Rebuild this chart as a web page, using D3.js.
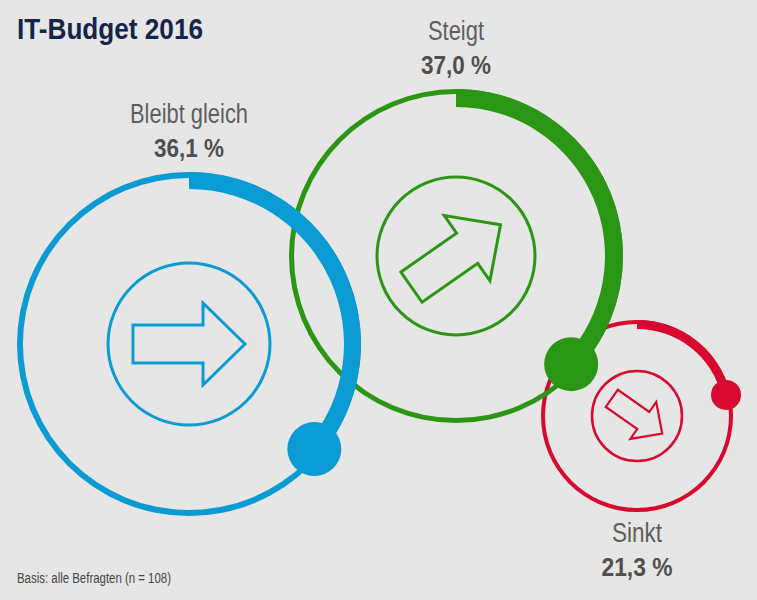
<!DOCTYPE html>
<html><head><meta charset="utf-8">
<script src="https://cdn.jsdelivr.net/npm/d3@7"></script>
<style>
html,body{margin:0;padding:0;background:#e6e6e6;}
svg{display:block;}
text{font-family:"Liberation Sans Narrow","Arial Narrow","Liberation Sans",sans-serif;}
</style></head>
<body>
<svg id="c" width="757" height="600"></svg>
<script>
// ---- data ----
const title = "IT-Budget 2016";
const footnote = "Basis: alle Befragten (n = 108)";
const categories = ["Bleibt gleich", "Steigt", "Sinkt"];
const values = [36.1, 37.0, 21.3];
const arrowDirections = [0, -35, 35]; // degrees: gleich → right, steigt → up-right, sinkt → down-right

// ---- layout / style ----
const layout = [
  {cx:189, cy:344, R:172, thin:6, thick:17, dot:27, inner:81, innerW:3, arrowScale:1.0, arrowW:3, color:"#0a9bd4", labelPos:"top", nameW:118, valW:70},
  {cx:456, cy:256, R:167, thin:5, thick:18, dot:27, inner:79, innerW:3, arrowScale:0.97, arrowW:3, color:"#2b9614", labelPos:"top", nameW:56, valW:70},
  {cx:637, cy:416, R:96, thin:4, thick:9, dot:15, inner:45, innerW:2.5, arrowScale:0.55, arrowW:2.2, color:"#d8082e", labelPos:"bottom", nameW:50, valW:71}
];
const drawOrder = [2, 1, 0];

const svg = d3.select("#c");
svg.append("rect").attr("width",757).attr("height",600).attr("fill","#e6e6e6");

const angle = d3.scaleLinear().domain([0,100]).range([0, 2*Math.PI]);
const fmt = v => d3.format(".1f")(v).replace(".", ",") + " %";

// arrow outline (pointing right), unit ~ px at scale 1
const arrowPts = [[-56,-19],[14,-19],[14,-41],[56,0],[14,41],[14,19],[-56,19]];
const arrowLine = d3.line().curve(d3.curveLinearClosed);

drawOrder.forEach(i => {
  const L = layout[i], v = values[i];
  const g = svg.append("g").attr("transform", `translate(${L.cx},${L.cy})`);
  // thin full ring
  g.append("path")
    .attr("d", d3.arc()({innerRadius:L.R-L.thin, outerRadius:L.R, startAngle:0, endAngle:2*Math.PI}))
    .attr("fill", L.color);
  // thick value arc
  g.append("path")
    .attr("d", d3.arc()({innerRadius:L.R-L.thick, outerRadius:L.R, startAngle:0, endAngle:angle(v)}))
    .attr("fill", L.color);
  // end dot
  const a = angle(v), rr = L.R - L.thick/2;
  g.append("circle")
    .attr("cx", rr*Math.sin(a)).attr("cy", -rr*Math.cos(a))
    .attr("r", L.dot).attr("fill", L.color);
  // inner circle
  g.append("circle").attr("r", L.inner).attr("fill","none")
    .attr("stroke", L.color).attr("stroke-width", L.innerW);
  // arrow
  g.append("path")
    .attr("d", arrowLine(arrowPts.map(p => [p[0]*L.arrowScale, p[1]*L.arrowScale])))
    .attr("transform", `rotate(${arrowDirections[i]})`)
    .attr("fill","none").attr("stroke", L.color)
    .attr("stroke-width", L.arrowW).attr("stroke-linejoin","miter");
});

// labels
categories.forEach((name, i) => {
  const L = layout[i];
  let nameY, valY;
  if (L.labelPos === "top") { nameY = L.cy - L.R - 49; valY = L.cy - L.R - 15; }
  else { nameY = L.cy + L.R + 30; valY = L.cy + L.R + 64; }
  svg.append("text").attr("x", L.cx).attr("y", nameY)
    .attr("text-anchor","middle").attr("font-size", 27).attr("fill","#5e5e5e")
    .attr("textLength", L.nameW).attr("lengthAdjust","spacingAndGlyphs")
    .text(name);
  svg.append("text").attr("x", L.cx).attr("y", valY)
    .attr("text-anchor","middle").attr("font-size", 25).attr("font-weight","bold").attr("fill","#4f4f4f")
    .attr("textLength", L.valW).attr("lengthAdjust","spacingAndGlyphs")
    .text(fmt(values[i]));
});

// title
svg.append("text").attr("x", 17).attr("y", 39)
  .attr("font-size", 29).attr("font-weight","bold").attr("fill","#14254a")
  .attr("textLength", 186).attr("lengthAdjust","spacingAndGlyphs")
  .text(title);

// footnote
svg.append("text").attr("x", 17).attr("y", 583)
  .attr("font-size", 14).attr("fill","#454545")
  .attr("textLength", 154).attr("lengthAdjust","spacingAndGlyphs")
  .text(footnote);
</script>
</body></html>
